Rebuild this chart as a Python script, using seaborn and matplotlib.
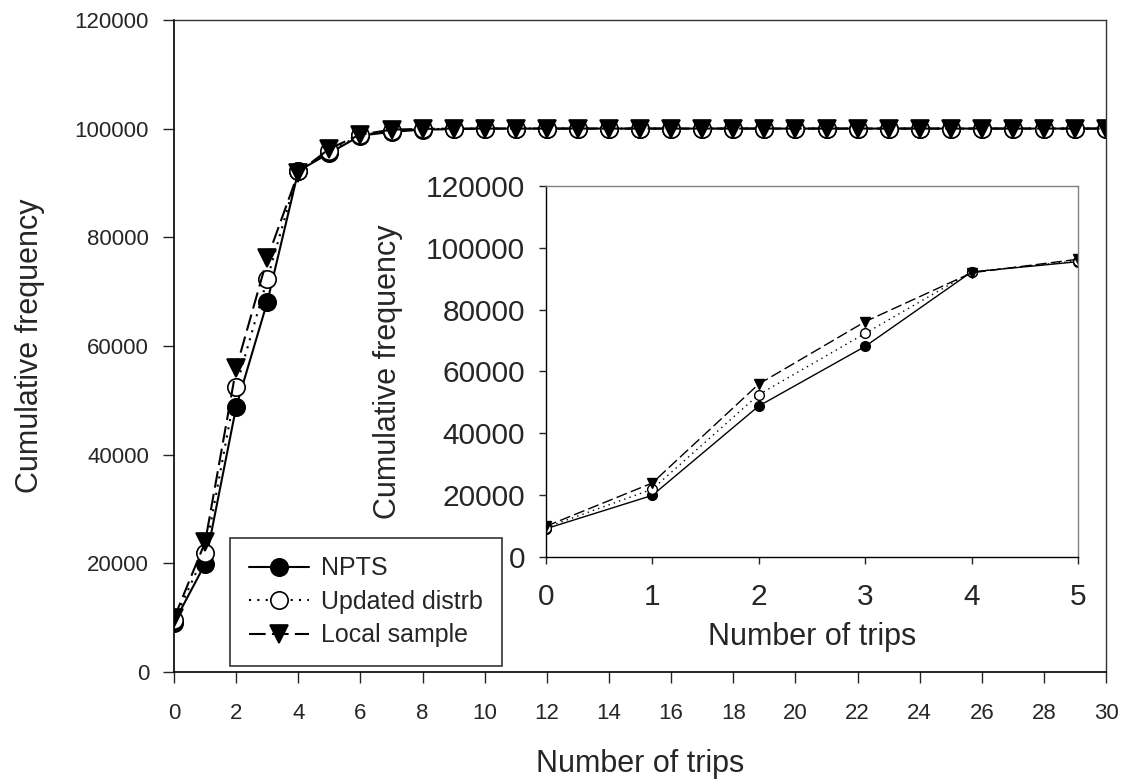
import numpy as np
import pandas as pd
import seaborn as sns
import matplotlib.pyplot as plt

trips = [0, 1, 2, 3, 4, 5, 6, 7, 8, 9, 10, 11, 12, 13, 14, 15,
         16, 17, 18, 19, 20, 21, 22, 23, 24, 25, 26, 27, 28, 29, 30]
npts = [9100, 19900, 48800, 68100, 92200, 95500, 98700, 99400, 99800, 99900,
        100000, 100000, 100000, 100000, 100000, 100000, 100000, 100000, 100000, 100000,
        100000, 100000, 100000, 100000, 100000, 100000, 100000, 100000, 100000, 100000, 100000]
updated = [9500, 21900, 52500, 72300, 92200, 95800, 98800, 99600, 99900, 99950,
           100000, 100000, 100000, 100000, 100000, 100000, 100000, 100000, 100000, 100000,
           100000, 100000, 100000, 100000, 100000, 100000, 100000, 100000, 100000, 100000, 100000]
local = [9900, 23900, 55900, 76100, 91900, 96300, 98900, 99800, 99950, 100000,
         100000, 100000, 100000, 100000, 100000, 100000, 100000, 100000, 100000, 100000,
         100000, 100000, 100000, 100000, 100000, 100000, 100000, 100000, 100000, 100000, 100000]
n_inset = 6  # inset zooms on 0..5 trips

sns.set_style("white")
plt.rcParams['font.family'] = ['Liberation Sans', 'DejaVu Sans']

df = pd.DataFrame({"trips": trips, "NPTS": npts, "Updated distrb": updated, "Local sample": local})

styles = {
    "NPTS": dict(marker="o", markerfacecolor="k", linestyle="-"),
    "Updated distrb": dict(marker="o", markerfacecolor="w", linestyle=(0, (1, 3))),
    "Local sample": dict(marker="v", markerfacecolor="k", linestyle=(0, (8, 3))),
}

fig = plt.figure(figsize=(11.23, 7.8), dpi=100)
ax = fig.add_axes([0.155, 0.1385, 0.830, 0.836])
axin = fig.add_axes([0.486, 0.286, 0.474, 0.4756])

for name, st in styles.items():
    sns.lineplot(data=df, x="trips", y=name, ax=ax, color="k", lw=1.5,
                 markersize=12.5, markeredgecolor="k", markeredgewidth=1.2,
                 label=name, **st)
    sns.lineplot(data=df.iloc[:n_inset], x="trips", y=name, ax=axin, color="k", lw=1.0,
                 markersize=7, markeredgecolor="k", markeredgewidth=1.0,
                 legend=False, **st)

# main axes
ax.set_xlim(0, 30)
ax.set_ylim(0, 120000)
ax.set_xticks(np.arange(0, 31, 2))
ax.set_yticks(np.arange(0, 120001, 20000))
ax.tick_params(axis="both", direction="out", length=8, width=1, labelsize=16)
ax.tick_params(axis="x", pad=14)
ax.tick_params(axis="y", pad=10)
ax.tick_params(top=False, right=False, bottom=True, left=True)
for side in ["left", "bottom"]:
    ax.spines[side].set_color("k")
    ax.spines[side].set_linewidth(1.2)
for side in ["top", "right"]:
    ax.spines[side].set_color("#333333")
    ax.spines[side].set_linewidth(1.0)
ax.set_xlabel("Number of trips", fontsize=22)
ax.set_ylabel("Cumulative frequency", fontsize=22)
ax.xaxis.set_label_coords(0.5, -0.118)
ax.yaxis.set_label_coords(-0.138, 0.5)

leg = ax.legend(loc="lower left", bbox_to_anchor=(0.06, 0.009), borderaxespad=0,
                fontsize=18, frameon=True, fancybox=False, edgecolor="k",
                handlelength=2.4, handletextpad=0.5, labelspacing=0.38, borderpad=0.75)
leg.get_frame().set_linewidth(1.2)

# inset axes
axin.set_xlim(0, 5)
axin.set_ylim(0, 120000)
axin.set_xticks(np.arange(0, 6, 1))
axin.set_yticks(np.arange(0, 120001, 20000))
axin.tick_params(axis="both", direction="out", length=5, width=1, labelsize=21.5)
axin.tick_params(axis="x", pad=14)
axin.tick_params(axis="y", pad=10)
axin.tick_params(top=False, right=False, bottom=True, left=True)
for side in ["left", "bottom"]:
    axin.spines[side].set_color("k")
    axin.spines[side].set_linewidth(1.0)
for side in ["top", "right"]:
    axin.spines[side].set_color("#808080")
    axin.spines[side].set_linewidth(1.0)
axin.set_xlabel("Number of trips", fontsize=22)
axin.set_ylabel("Cumulative frequency", fontsize=22)
axin.xaxis.set_label_coords(0.5, -0.175)
axin.yaxis.set_label_coords(-0.268, 0.5)

plt.savefig("out.png", dpi=100)
